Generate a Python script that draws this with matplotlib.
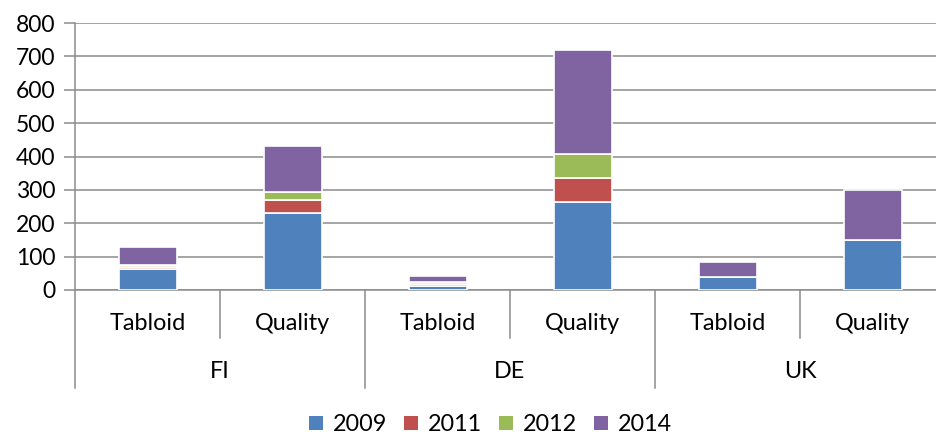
import numpy as np
import matplotlib.pyplot as plt
from matplotlib.patches import Patch

plt.rcParams['font.family'] = ['Lato', 'DejaVu Sans']

countries = ['FI', 'DE', 'UK']
types = ['Tabloid', 'Quality']
years = ['2009', '2011', '2012', '2014']
colors = ['#4F81BD', '#C0504D', '#9BBB59', '#8064A2']

# order: FI Tabloid, FI Quality, DE Tabloid, DE Quality, UK Tabloid, UK Quality
v2009 = [62, 232, 11, 265, 38, 150]
v2011 = [8, 39, 7, 70, 0, 0]
v2012 = [4, 24, 6, 72, 0, 0]
v2014 = [54, 135, 18, 313, 47, 150]
series = [v2009, v2011, v2012, v2014]

fig = plt.figure(figsize=(9.36, 4.37), dpi=100)
ax = fig.add_axes([75 / 936, 147 / 437, 870 / 936, 267 / 437])

x = np.arange(len(v2009))
bottom = np.zeros(len(x))
for vals, col in zip(series, colors):
    ax.bar(x, vals, width=0.4, bottom=bottom, color=col,
           edgecolor='white', linewidth=1.2, zorder=3)
    bottom += np.array(vals)

grid_col = '#8c8c8c'
ax.set_xlim(-0.5, len(x) - 0.5)
ax.set_ylim(0, 800)
ax.set_yticks(range(0, 801, 100))
ax.yaxis.grid(True, color=grid_col, linewidth=1.1, zorder=0)
ax.tick_params(axis='y', length=8, width=1.1, color=grid_col, labelsize=16.5, pad=6)
ax.tick_params(axis='x', length=0, labelbottom=False)
for s in ['top', 'right']:
    ax.spines[s].set_visible(False)
ax.spines['left'].set_color(grid_col)
ax.spines['bottom'].set_color(grid_col)
ax.spines['left'].set_linewidth(1.1)
ax.spines['bottom'].set_linewidth(1.1)

# two-level category axis
trans = ax.get_xaxis_transform()
px = 1 / 267  # one pixel in axes fraction (vertical)
for i, xi in enumerate(x):
    ax.text(xi, -33 * px, types[i % 2], transform=trans, ha='center', va='center',
            fontsize=16.8, color='black')
for j, c in enumerate(countries):
    ax.text(2 * j + 0.5, -81 * px, c, transform=trans, ha='center', va='center',
            fontsize=16.8, color='black')
for k in range(len(x) + 1):
    xb = k - 0.5
    low = -98 * px if k % 2 == 0 else -48 * px
    ax.plot([xb, xb], [0, low], transform=trans, color=grid_col,
            linewidth=1.1, clip_on=False)

handles = [Patch(facecolor=c, edgecolor='none') for c in colors]
fig.legend(handles, years, loc='center', bbox_to_anchor=(0.524, 0.028), ncol=4,
           frameon=False, fontsize=16.8, handlelength=0.6, handleheight=0.6,
           handletextpad=0.4, columnspacing=0.75)

fig.savefig('out.png', dpi=100)
